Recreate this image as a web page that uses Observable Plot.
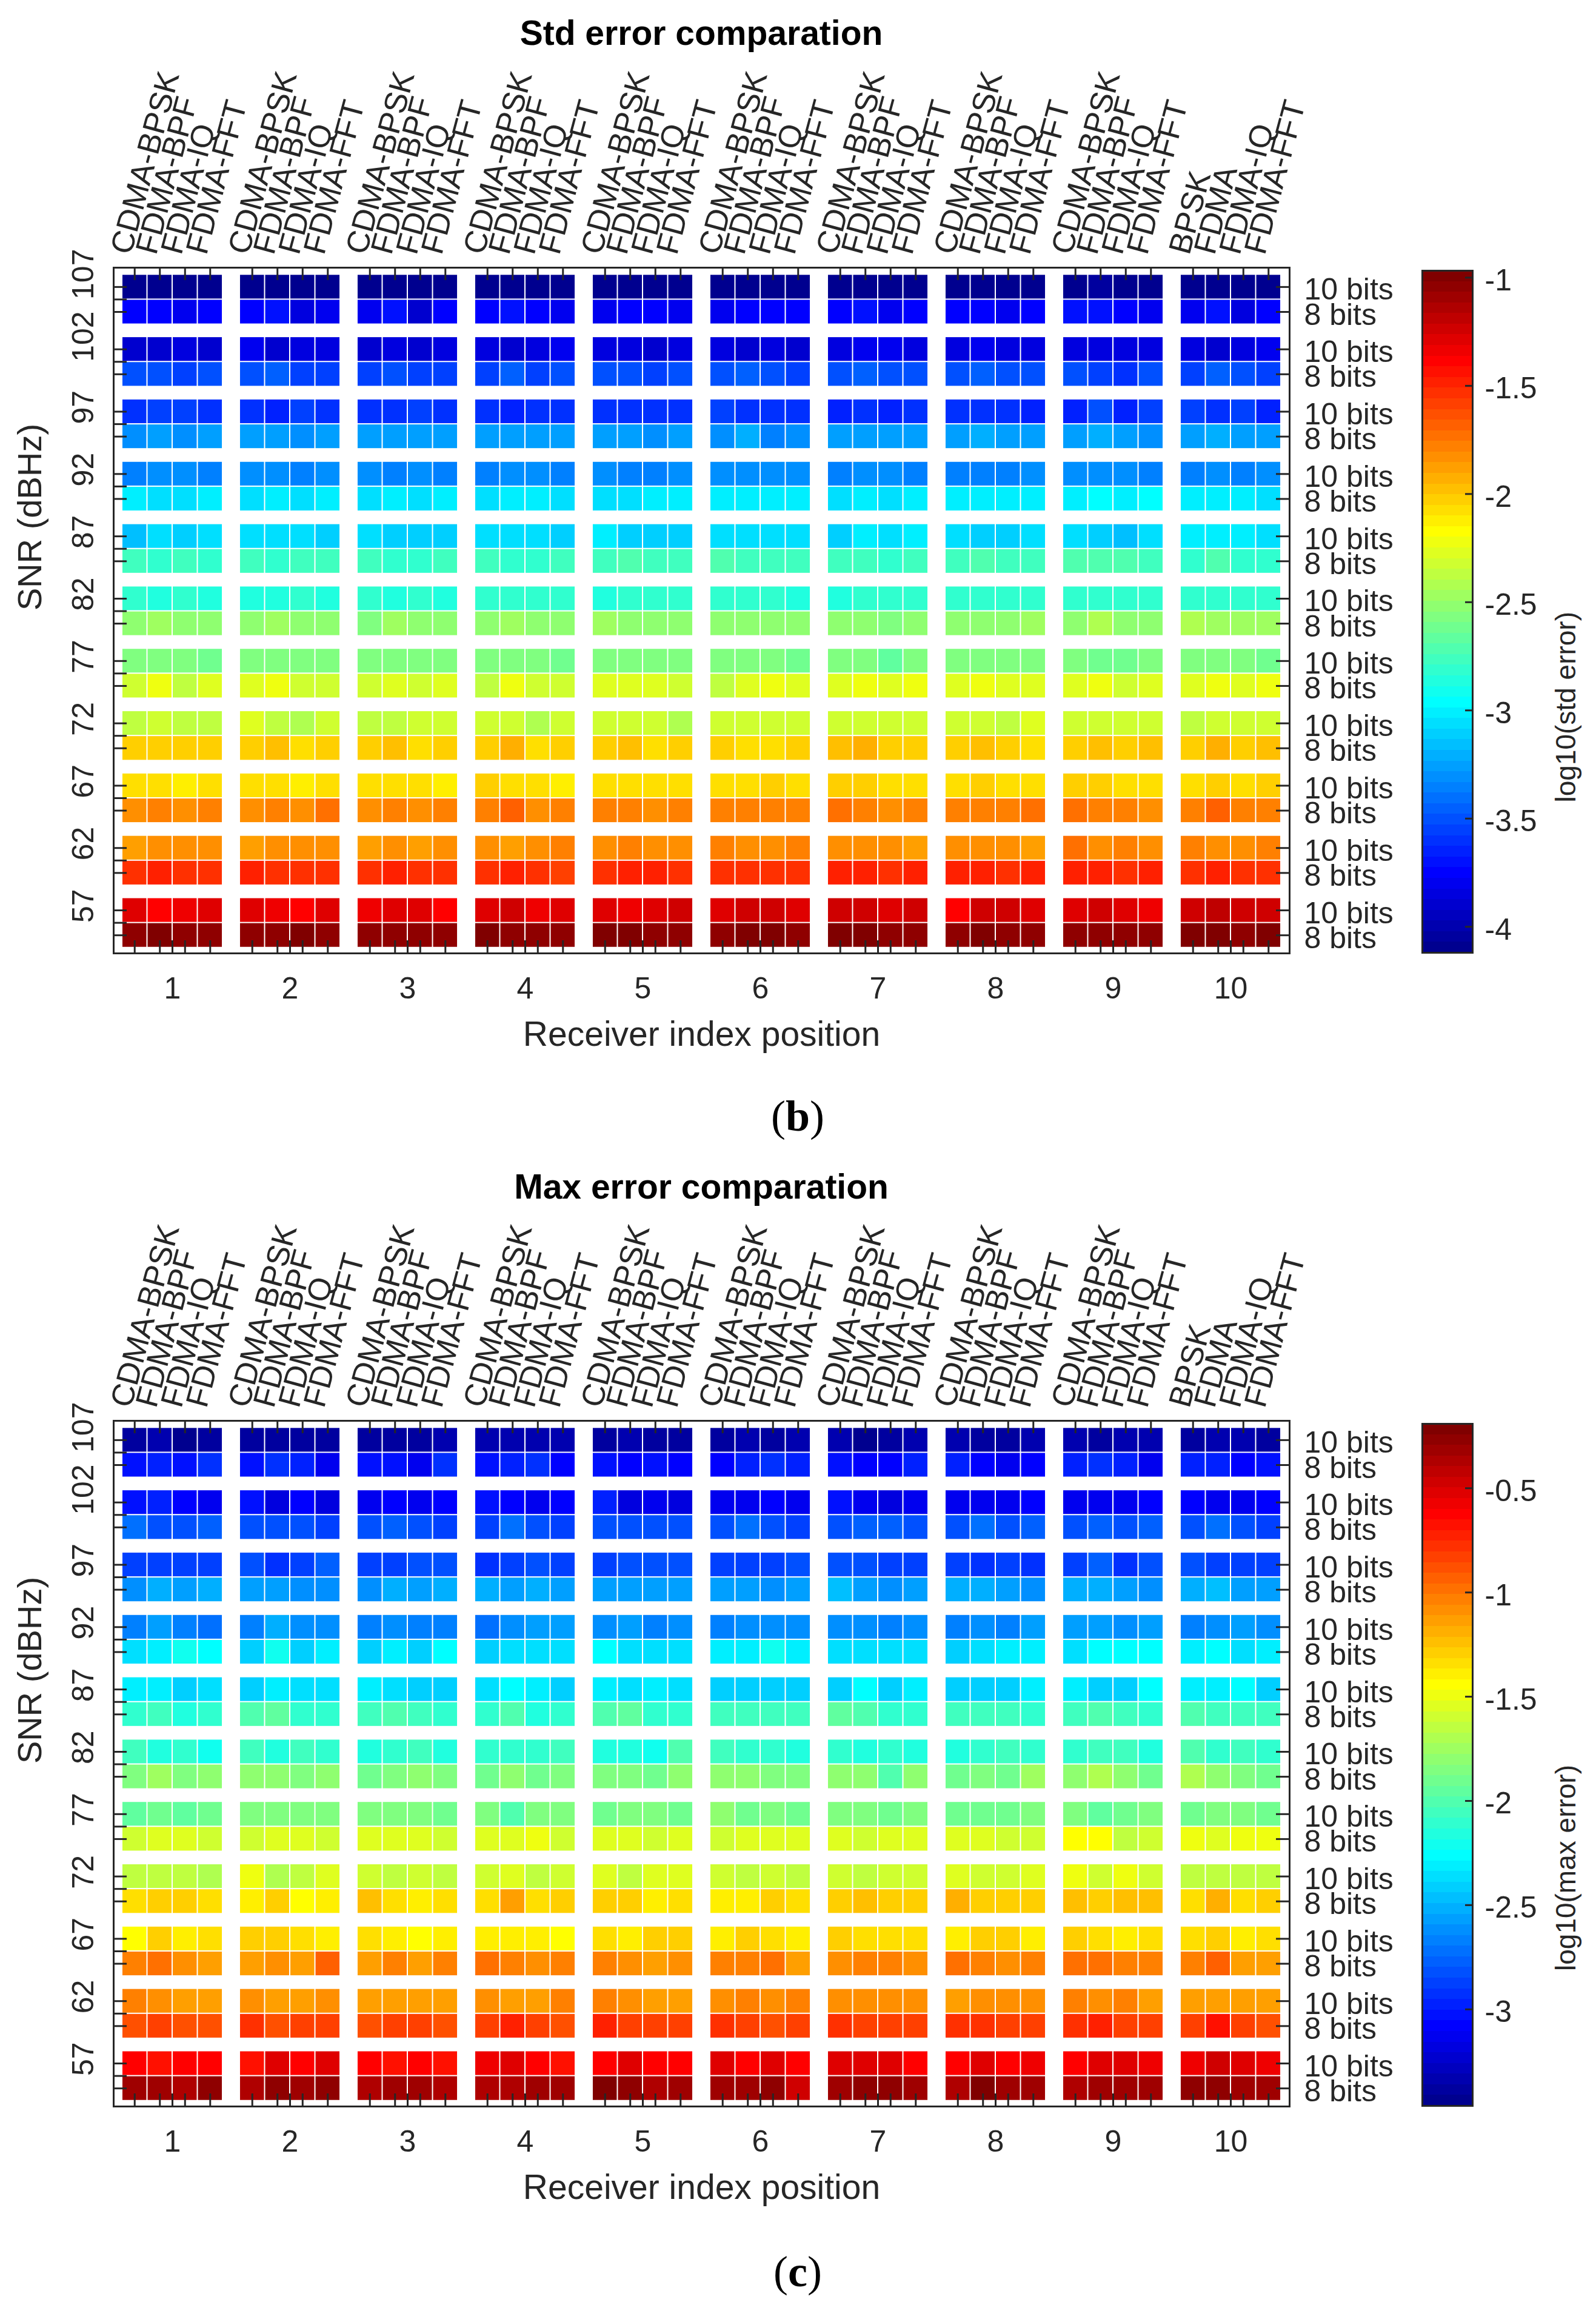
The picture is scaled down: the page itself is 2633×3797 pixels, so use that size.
<!DOCTYPE html>
<html><head><meta charset="utf-8">
<script src="https://cdn.jsdelivr.net/npm/d3@7"></script>
<script src="https://cdn.jsdelivr.net/npm/@observablehq/plot@0.6"></script>
<style>
html,body{margin:0;padding:0;background:#fff;}
#page{position:relative;width:2633px;height:3797px;background:#fff;overflow:hidden;font-family:"Liberation Sans",Arial,Helvetica,sans-serif;color:#262626;}
.title{position:absolute;transform:translate(-50%,-50%);white-space:nowrap;font-weight:bold;font-size:57px;line-height:1;color:#000;}
.sub{position:absolute;transform:translate(-50%,-50%);white-space:nowrap;font-family:"Liberation Serif","Times New Roman",serif;font-size:72px;line-height:1;color:#000;}
</style></head><body><div id="page"></div>
<script>
const receivers = [1,2,3,4,5,6,7,8,9,10];
const snrLevels = [107,102,97,92,87,82,77,72,67,62,57];
const bitLabels = ["10 bits","8 bits"];
const methodLabels = ["CDMA-BPSK","FDMA-BPF","FDMA-IQ","FDMA-FFT"];
const lastMethodLabels = ["BPSK","FDMA","FDMA-IQ","FDMA-FFT"];
const stdTicks = [-1,-1.5,-2,-2.5,-3,-3.5,-4];
const maxTicks = [-0.5,-1,-1.5,-2,-2.5,-3];
const stdDomain = [-4.12,-0.968];
const maxDomain = [-3.463,-0.191];

// log10(std error), 10-bit rows, SNR 107 -> 57, 10 receivers x 4 methods
const std10 = [
[-4.09,-4.10,-4.09,-4.09, -4.10,-4.09,-4.09,-4.09, -4.10,-4.09,-4.10,-4.09, -4.09,-4.10,-4.09,-4.08, -4.09,-4.10,-4.08,-4.09, -4.08,-4.09,-4.10,-4.08, -4.09,-4.10,-4.09,-4.10, -4.08,-4.08,-4.09,-4.08, -4.09,-4.07,-4.09,-4.08, -4.09,-4.08,-4.09,-4.08],
[-3.90,-3.90,-3.87,-3.90, -3.82,-3.90,-3.85,-3.87, -3.90,-3.85,-3.90,-3.85, -3.85,-3.90,-3.87,-3.82, -3.85,-3.87,-3.90,-3.85, -3.85,-3.90,-3.85,-3.90, -3.85,-3.82,-3.82,-3.87, -3.87,-3.82,-3.85,-3.87, -3.85,-3.85,-3.87,-3.87, -3.87,-3.92,-3.85,-3.82],
[-3.60,-3.55,-3.55,-3.60, -3.60,-3.65,-3.55,-3.58, -3.60,-3.60,-3.55,-3.60, -3.58,-3.63,-3.58,-3.60, -3.58,-3.60,-3.60,-3.58, -3.55,-3.60,-3.60,-3.58, -3.65,-3.58,-3.65,-3.60, -3.60,-3.60,-3.60,-3.63, -3.65,-3.50,-3.65,-3.53, -3.55,-3.58,-3.53,-3.65],
[-3.36,-3.33,-3.33,-3.36, -3.33,-3.33,-3.36,-3.33, -3.33,-3.36,-3.33,-3.36, -3.36,-3.33,-3.33,-3.36, -3.33,-3.36,-3.38,-3.33, -3.31,-3.31,-3.31,-3.31, -3.36,-3.31,-3.31,-3.36, -3.36,-3.36,-3.36,-3.33, -3.31,-3.33,-3.31,-3.36, -3.36,-3.33,-3.36,-3.33],
[-3.14,-3.06,-3.09,-3.06, -3.06,-3.06,-3.06,-3.11, -3.06,-3.09,-3.11,-3.11, -3.06,-3.06,-3.06,-3.11, -3.01,-3.09,-3.11,-3.11, -3.06,-3.06,-3.06,-3.06, -3.11,-3.01,-3.06,-3.01, -3.06,-3.11,-3.11,-3.06, -3.06,-3.09,-3.16,-3.06, -3.01,-3.01,-3.01,-3.06],
[-2.82,-2.86,-2.82,-2.86, -2.86,-2.86,-2.82,-2.86, -2.82,-2.86,-2.82,-2.86, -2.82,-2.82,-2.82,-2.82, -2.86,-2.82,-2.82,-2.82, -2.82,-2.82,-2.82,-2.86, -2.86,-2.82,-2.82,-2.82, -2.82,-2.82,-2.82,-2.82, -2.82,-2.82,-2.82,-2.82, -2.82,-2.82,-2.82,-2.82],
[-2.57,-2.57,-2.57,-2.62, -2.57,-2.57,-2.55,-2.57, -2.57,-2.57,-2.57,-2.57, -2.57,-2.57,-2.57,-2.62, -2.57,-2.57,-2.57,-2.57, -2.57,-2.57,-2.57,-2.62, -2.57,-2.57,-2.67,-2.57, -2.57,-2.57,-2.57,-2.57, -2.57,-2.62,-2.62,-2.57, -2.57,-2.57,-2.57,-2.62],
[-2.35,-2.32,-2.37,-2.37, -2.27,-2.37,-2.42,-2.32, -2.37,-2.37,-2.32,-2.32, -2.32,-2.30,-2.40,-2.30, -2.32,-2.32,-2.32,-2.40, -2.32,-2.32,-2.32,-2.32, -2.32,-2.32,-2.32,-2.30, -2.32,-2.32,-2.37,-2.27, -2.32,-2.32,-2.32,-2.32, -2.35,-2.32,-2.32,-2.32],
[-2.08,-2.08,-2.12,-2.08, -2.08,-2.08,-2.12,-2.08, -2.08,-2.08,-2.08,-2.12, -2.03,-2.08,-2.08,-2.12, -2.08,-2.08,-2.08,-2.08, -2.08,-2.08,-2.03,-2.08, -2.03,-2.03,-2.08,-2.08, -2.08,-2.03,-2.08,-2.08, -2.03,-2.03,-2.08,-2.08, -2.08,-2.03,-2.08,-2.03],
[-1.88,-1.81,-1.85,-1.83, -1.88,-1.85,-1.83,-1.83, -1.88,-1.81,-1.88,-1.85, -1.81,-1.88,-1.83,-1.78, -1.83,-1.78,-1.83,-1.81, -1.78,-1.81,-1.81,-1.78, -1.83,-1.83,-1.83,-1.88, -1.83,-1.81,-1.85,-1.88, -1.73,-1.81,-1.78,-1.85, -1.78,-1.81,-1.85,-1.78],
[-1.30,-1.39,-1.33,-1.30, -1.30,-1.33,-1.39,-1.30, -1.33,-1.30,-1.30,-1.39, -1.30,-1.25,-1.33,-1.30, -1.30,-1.33,-1.30,-1.25, -1.30,-1.25,-1.25,-1.30, -1.25,-1.25,-1.30,-1.25, -1.39,-1.25,-1.25,-1.30, -1.30,-1.25,-1.30,-1.33, -1.25,-1.19,-1.25,-1.25]
];
// log10(std error), 8-bit rows
const std8 = [
[-3.75,-3.75,-3.82,-3.75, -3.75,-3.70,-3.85,-3.80, -3.80,-3.70,-3.90,-3.75, -3.75,-3.70,-3.75,-3.80, -3.80,-3.75,-3.75,-3.80, -3.80,-3.75,-3.75,-3.75, -3.75,-3.70,-3.80,-3.75, -3.75,-3.75,-3.80,-3.75, -3.70,-3.70,-3.75,-3.80, -3.80,-3.70,-3.85,-3.75],
[-3.50,-3.50,-3.53,-3.50, -3.50,-3.46,-3.55,-3.53, -3.55,-3.50,-3.55,-3.53, -3.53,-3.46,-3.53,-3.50, -3.50,-3.48,-3.53,-3.48, -3.48,-3.46,-3.48,-3.53, -3.48,-3.46,-3.48,-3.48, -3.48,-3.46,-3.48,-3.48, -3.48,-3.53,-3.58,-3.48, -3.53,-3.46,-3.48,-3.53],
[-3.31,-3.28,-3.31,-3.28, -3.28,-3.26,-3.31,-3.28, -3.28,-3.26,-3.28,-3.26, -3.28,-3.26,-3.28,-3.28, -3.28,-3.26,-3.31,-3.26, -3.31,-3.23,-3.36,-3.31, -3.26,-3.25,-3.26,-3.27, -3.26,-3.23,-3.28,-3.26, -3.26,-3.23,-3.26,-3.31, -3.26,-3.23,-3.26,-3.28],
[-3.01,-3.06,-3.06,-3.01, -3.06,-3.01,-3.06,-3.01, -3.06,-3.01,-3.06,-3.01, -3.06,-3.01,-3.01,-3.06, -3.04,-3.04,-3.01,-3.01, -3.01,-3.01,-3.01,-3.01, -3.06,-3.01,-3.06,-3.01, -3.01,-3.01,-3.01,-3.01, -3.01,-2.96,-3.01,-2.96, -3.01,-3.01,-3.01,-3.04],
[-2.77,-2.82,-2.77,-2.82, -2.77,-2.82,-2.77,-2.77, -2.77,-2.82,-2.82,-2.77, -2.77,-2.82,-2.82,-2.77, -2.77,-2.72,-2.77,-2.77, -2.74,-2.77,-2.77,-2.77, -2.77,-2.77,-2.82,-2.77, -2.77,-2.72,-2.77,-2.77, -2.72,-2.72,-2.74,-2.77, -2.82,-2.72,-2.82,-2.82],
[-2.52,-2.47,-2.52,-2.52, -2.52,-2.47,-2.52,-2.52, -2.57,-2.47,-2.52,-2.52, -2.52,-2.47,-2.52,-2.52, -2.47,-2.52,-2.52,-2.52, -2.52,-2.52,-2.52,-2.52, -2.52,-2.52,-2.57,-2.52, -2.52,-2.52,-2.52,-2.47, -2.52,-2.42,-2.52,-2.52, -2.42,-2.47,-2.47,-2.47],
[-2.30,-2.22,-2.35,-2.27, -2.27,-2.22,-2.32,-2.32, -2.30,-2.27,-2.32,-2.27, -2.37,-2.22,-2.32,-2.32, -2.27,-2.27,-2.27,-2.32, -2.37,-2.27,-2.22,-2.27, -2.27,-2.22,-2.27,-2.22, -2.27,-2.22,-2.27,-2.27, -2.27,-2.22,-2.32,-2.27, -2.25,-2.22,-2.27,-2.22],
[-2.03,-2.03,-2.03,-2.03, -2.03,-1.98,-2.08,-2.03, -2.03,-1.98,-2.08,-2.03, -2.03,-1.93,-2.08,-2.03, -2.03,-1.98,-2.08,-2.03, -2.03,-2.08,-2.08,-2.03, -1.98,-1.93,-2.03,-2.03, -2.03,-1.98,-2.03,-2.08, -2.03,-1.98,-2.03,-1.98, -2.03,-1.93,-2.03,-1.98],
[-1.81,-1.78,-1.81,-1.78, -1.81,-1.78,-1.81,-1.73, -1.81,-1.76,-1.81,-1.76, -1.76,-1.68,-1.81,-1.78, -1.78,-1.76,-1.81,-1.78, -1.78,-1.78,-1.78,-1.78, -1.73,-1.76,-1.81,-1.76, -1.78,-1.78,-1.78,-1.73, -1.73,-1.76,-1.78,-1.81, -1.78,-1.68,-1.78,-1.78],
[-1.52,-1.49,-1.53,-1.53, -1.49,-1.52,-1.52,-1.52, -1.52,-1.49,-1.52,-1.52, -1.52,-1.49,-1.52,-1.56, -1.52,-1.49,-1.49,-1.53, -1.53,-1.52,-1.53,-1.53, -1.49,-1.49,-1.53,-1.49, -1.49,-1.49,-1.53,-1.49, -1.49,-1.49,-1.53,-1.49, -1.52,-1.49,-1.52,-1.53],
[-1.03,-0.99,-1.03,-1.03, -1.04,-1.03,-0.99,-1.03, -1.03,-1.03,-1.03,-1.03, -0.99,-1.03,-1.03,-1.03, -0.99,-0.99,-1.03,-1.03, -1.03,-0.99,-0.99,-1.03, -0.99,-0.99,-1.03,-1.03, -1.03,-0.99,-1.03,-1.03, -1.03,-1.03,-1.03,-1.03, -0.99,-0.99,-1.03,-0.99]
];
// log10(max error), 10-bit rows
const max10 = [
[-3.39,-3.36,-3.45,-3.39, -3.39,-3.38,-3.39,-3.40, -3.39,-3.41,-3.39,-3.36, -3.34,-3.36,-3.36,-3.34, -3.39,-3.36,-3.39,-3.41, -3.39,-3.36,-3.39,-3.36, -3.36,-3.44,-3.39,-3.36, -3.36,-3.39,-3.39,-3.36, -3.34,-3.39,-3.36,-3.34, -3.39,-3.36,-3.36,-3.39],
[-3.03,-3.00,-3.08,-3.15, -3.03,-3.20,-3.08,-3.18, -3.15,-3.08,-3.15,-3.08, -3.03,-3.08,-3.15,-3.08, -2.98,-3.18,-3.15,-3.18, -3.15,-3.15,-3.08,-3.13, -3.03,-3.13,-3.18,-3.13, -3.13,-3.15,-3.15,-3.08, -3.13,-3.15,-3.13,-3.08, -3.08,-3.13,-3.13,-3.08],
[-2.90,-2.85,-2.85,-2.90, -2.80,-2.93,-2.85,-2.77, -2.88,-2.85,-2.82,-2.82, -2.93,-2.85,-2.82,-2.88, -2.85,-2.82,-2.80,-2.80, -2.88,-2.85,-2.88,-2.82, -2.82,-2.80,-2.85,-2.85, -2.85,-2.93,-2.88,-2.93, -2.85,-2.77,-2.93,-2.82, -2.82,-2.85,-2.88,-2.85],
[-2.65,-2.57,-2.67,-2.70, -2.67,-2.52,-2.62,-2.60, -2.65,-2.62,-2.65,-2.67, -2.72,-2.62,-2.57,-2.55, -2.62,-2.57,-2.67,-2.60, -2.67,-2.62,-2.62,-2.62, -2.60,-2.62,-2.67,-2.60, -2.67,-2.62,-2.67,-2.57, -2.57,-2.57,-2.62,-2.57, -2.67,-2.62,-2.57,-2.62],
[-2.31,-2.31,-2.44,-2.36, -2.39,-2.31,-2.36,-2.36, -2.31,-2.36,-2.44,-2.42, -2.36,-2.26,-2.31,-2.42, -2.31,-2.36,-2.31,-2.36, -2.39,-2.39,-2.39,-2.39, -2.39,-2.26,-2.39,-2.31, -2.39,-2.42,-2.39,-2.31, -2.31,-2.44,-2.44,-2.26, -2.31,-2.31,-2.26,-2.42],
[-2.06,-2.16,-2.11,-2.21, -2.06,-2.16,-2.06,-2.11, -2.16,-2.11,-2.06,-2.16, -2.11,-2.11,-2.11,-2.06, -2.16,-2.16,-2.21,-2.01, -2.06,-2.11,-2.11,-2.16, -2.11,-2.16,-2.11,-2.16, -2.16,-2.11,-2.06,-2.11, -2.11,-2.06,-2.06,-2.16, -2.01,-2.11,-2.06,-2.11],
[-1.96,-1.90,-1.96,-1.90, -1.85,-1.85,-1.83,-1.85, -1.83,-1.85,-1.85,-1.90, -1.85,-2.01,-1.85,-1.85, -1.90,-1.85,-1.85,-1.90, -1.80,-1.90,-1.85,-1.90, -1.85,-1.85,-1.90,-1.85, -1.90,-1.90,-1.90,-1.85, -1.85,-1.96,-1.90,-1.85, -1.90,-1.85,-1.85,-1.90],
[-1.63,-1.65,-1.65,-1.68, -1.50,-1.70,-1.65,-1.55, -1.60,-1.63,-1.60,-1.63, -1.60,-1.55,-1.65,-1.60, -1.55,-1.65,-1.55,-1.55, -1.60,-1.65,-1.60,-1.65, -1.60,-1.63,-1.60,-1.60, -1.55,-1.60,-1.60,-1.55, -1.50,-1.60,-1.52,-1.60, -1.65,-1.63,-1.65,-1.65],
[-1.44,-1.29,-1.37,-1.34, -1.29,-1.27,-1.34,-1.39, -1.32,-1.37,-1.44,-1.39, -1.39,-1.39,-1.39,-1.44, -1.34,-1.39,-1.29,-1.29, -1.39,-1.29,-1.32,-1.39, -1.29,-1.32,-1.34,-1.34, -1.39,-1.27,-1.27,-1.39, -1.29,-1.34,-1.39,-1.34, -1.34,-1.27,-1.39,-1.34],
[-1.06,-1.09,-1.14,-1.14, -1.09,-1.14,-1.14,-1.09, -1.14,-1.14,-1.16,-1.14, -1.09,-1.14,-1.14,-1.04, -1.06,-1.09,-1.14,-1.14, -1.09,-1.04,-1.09,-1.06, -1.09,-1.09,-1.09,-1.09, -1.16,-1.09,-1.09,-1.11, -1.04,-1.09,-1.04,-1.14, -1.14,-1.16,-1.14,-1.14],
[-0.63,-0.68,-0.63,-0.63, -0.68,-0.52,-0.63,-0.52, -0.63,-0.68,-0.63,-0.68, -0.58,-0.50,-0.63,-0.68, -0.63,-0.52,-0.63,-0.63, -0.52,-0.63,-0.52,-0.63, -0.52,-0.52,-0.52,-0.63, -0.63,-0.52,-0.63,-0.58, -0.63,-0.52,-0.52,-0.55, -0.58,-0.47,-0.52,-0.55]
];
// log10(max error), 8-bit rows
const max8 = [
[-3.03,-3.00,-3.03,-2.93, -3.03,-2.95,-3.00,-3.15, -3.03,-3.03,-3.15,-2.93, -3.03,-3.00,-2.93,-3.08, -3.03,-3.08,-3.03,-3.08, -3.08,-3.00,-2.93,-3.00, -3.03,-3.08,-3.08,-3.00, -3.00,-3.08,-3.13,-3.08, -3.00,-2.93,-3.00,-3.13, -3.00,-3.00,-3.08,-3.03],
[-2.72,-2.80,-2.82,-2.77, -2.80,-2.80,-2.82,-2.90, -2.80,-2.75,-2.82,-2.85, -2.85,-2.72,-2.82,-2.85, -2.80,-2.82,-2.80,-2.80, -2.80,-2.72,-2.80,-2.85, -2.82,-2.75,-2.77,-2.80, -2.80,-2.72,-2.80,-2.77, -2.80,-2.77,-2.80,-2.77, -2.80,-2.72,-2.80,-2.85],
[-2.62,-2.52,-2.57,-2.52, -2.57,-2.57,-2.62,-2.62, -2.62,-2.52,-2.57,-2.52, -2.52,-2.57,-2.50,-2.57, -2.57,-2.55,-2.57,-2.57, -2.55,-2.57,-2.62,-2.57, -2.47,-2.57,-2.62,-2.55, -2.52,-2.52,-2.57,-2.62, -2.52,-2.52,-2.57,-2.62, -2.52,-2.47,-2.57,-2.55],
[-2.36,-2.31,-2.21,-2.26, -2.39,-2.21,-2.42,-2.31, -2.39,-2.31,-2.39,-2.26, -2.42,-2.36,-2.34,-2.36, -2.26,-2.34,-2.34,-2.36, -2.31,-2.31,-2.21,-2.31, -2.36,-2.34,-2.36,-2.34, -2.39,-2.34,-2.31,-2.31, -2.36,-2.26,-2.26,-2.26, -2.31,-2.26,-2.34,-2.31],
[-2.11,-2.06,-2.16,-2.11, -2.01,-1.96,-2.11,-2.11, -2.06,-2.01,-2.06,-2.11, -2.11,-2.01,-2.16,-2.11, -2.01,-1.96,-2.11,-2.11, -2.06,-2.06,-2.06,-2.06, -1.96,-2.01,-2.11,-2.11, -2.06,-2.06,-2.06,-2.11, -2.06,-2.01,-2.06,-2.11, -2.01,-2.06,-2.06,-2.06],
[-1.85,-1.75,-1.85,-1.80, -1.80,-1.80,-1.85,-1.80, -1.90,-1.85,-1.80,-1.85, -1.90,-1.80,-1.90,-1.85, -1.85,-1.85,-1.90,-1.80, -1.80,-1.80,-1.85,-1.85, -1.80,-1.80,-2.01,-1.80, -1.90,-1.85,-1.90,-1.75, -1.80,-1.70,-1.80,-1.90, -1.70,-1.80,-1.85,-1.90],
[-1.60,-1.55,-1.55,-1.58, -1.60,-1.55,-1.55,-1.60, -1.55,-1.55,-1.55,-1.60, -1.55,-1.55,-1.50,-1.60, -1.55,-1.55,-1.60,-1.55, -1.60,-1.55,-1.55,-1.55, -1.55,-1.60,-1.55,-1.55, -1.55,-1.55,-1.60,-1.60, -1.44,-1.44,-1.65,-1.60, -1.50,-1.55,-1.52,-1.50],
[-1.34,-1.29,-1.29,-1.34, -1.39,-1.29,-1.44,-1.39, -1.24,-1.32,-1.37,-1.34, -1.34,-1.14,-1.32,-1.29, -1.29,-1.27,-1.39,-1.34, -1.39,-1.39,-1.27,-1.34, -1.29,-1.24,-1.29,-1.29, -1.19,-1.29,-1.29,-1.29, -1.24,-1.29,-1.24,-1.24, -1.34,-1.19,-1.34,-1.29],
[-1.04,-0.98,-1.09,-1.14, -1.14,-1.09,-1.14,-0.93, -1.14,-1.04,-1.14,-1.06, -0.98,-1.01,-1.09,-1.04, -1.04,-1.09,-1.14,-1.11, -1.01,-1.04,-0.98,-1.14, -1.09,-1.04,-1.04,-1.09, -0.98,-1.04,-1.09,-1.04, -0.98,-0.98,-1.06,-1.04, -1.06,-0.93,-1.14,-1.14],
[-0.88,-0.83,-0.90,-0.86, -0.78,-0.86,-0.83,-0.81, -0.86,-0.81,-0.83,-0.88, -0.83,-0.73,-0.83,-0.86, -0.73,-0.83,-0.81,-0.83, -0.78,-0.81,-0.86,-0.81, -0.76,-0.81,-0.83,-0.83, -0.78,-0.76,-0.81,-0.83, -0.78,-0.73,-0.83,-0.81, -0.83,-0.68,-0.83,-0.86],
[-0.32,-0.32,-0.35,-0.27, -0.35,-0.27,-0.32,-0.27, -0.35,-0.32,-0.32,-0.35, -0.37,-0.35,-0.32,-0.32, -0.22,-0.27,-0.35,-0.32, -0.32,-0.32,-0.27,-0.45, -0.32,-0.27,-0.27,-0.32, -0.35,-0.22,-0.32,-0.32, -0.37,-0.32,-0.32,-0.32, -0.27,-0.27,-0.32,-0.30]
];

// MATLAB-style jet colormap with 64 discrete levels
function jet(t) {
  const k = Math.max(1, Math.min(64, Math.floor(t * 64) + 1));
  const c = v => Math.round(255 * Math.max(0, Math.min(1, v)));
  const r = c(Math.min((k - 24) / 16, (72 - k) / 16));
  const g = c(Math.min((k - 8) / 16, (56 - k) / 16));
  const b = c(Math.min((k + 8) / 16, (40 - k) / 16));
  return `rgb(${r},${g},${b})`;
}

const INK = "#262626";
const FONT = "Liberation Sans, Arial, Helvetica, sans-serif";
const CW = 0.214, GH = 0.428;
const W = 2340, H = 1670, ML = 187, MR = 213, MT = 351, MB = 188;
const IW = W - ML - MR, IH = H - MT - MB;

const columns = receivers.flatMap(r => [0,1,2,3].map(m => ({
  x: r - GH + (m + 0.5) * CW,
  label: (r === 10 ? lastMethodLabels : methodLabels)[m]
})));

function buildCells(a10, a8) {
  const cells = [];
  snrLevels.forEach((s, si) => {
    [[a10, s, s + 2], [a8, s - 2, s]].forEach(([arr, y1, y2]) => {
      receivers.forEach((r, gi) => {
        for (let m = 0; m < 4; m++) {
          const x1 = r - GH + m * CW;
          cells.push({x1, x2: x1 + CW, y1, y2, v: arr[si][gi * 4 + m]});
        }
      });
    });
  });
  return cells;
}

function heatmap(cells, domain) {
  const rowCenters = snrLevels.flatMap(s => [s + 1, s - 1]);
  const leftTicks = snrLevels.flatMap(s => [s + 1, s, s - 1]);
  const bottomTicks = [...columns.map(c => c.x), ...receivers];
  const rightLabels = snrLevels.flatMap(s => [{y: s + 1, t: bitLabels[0]}, {y: s - 1, t: bitLabels[1]}]);
  return Plot.plot({
    width: W, height: H, marginLeft: ML, marginRight: MR, marginTop: MT, marginBottom: MB,
    style: {fontFamily: FONT, color: INK, background: "transparent", overflow: "visible"},
    x: {domain: [0.5, 10.5], axis: null},
    y: {domain: [54.55, 109.55], axis: null},
    color: {type: "linear", domain, interpolate: jet, clamp: true},
    marks: [
      Plot.rect(cells, {x1: "x1", x2: "x2", y1: "y1", y2: "y2", fill: "v", inset: 1}),
      Plot.tickX(columns, {x: "x", insetBottom: IH - 21, stroke: INK, strokeWidth: 3}),
      Plot.tickX(bottomTicks, {x: d => d, insetTop: IH - 21, stroke: INK, strokeWidth: 3}),
      Plot.tickY(leftTicks, {y: d => d, insetRight: IW - 22, stroke: INK, strokeWidth: 3}),
      Plot.tickY(rowCenters, {y: d => d, insetLeft: IW - 22, stroke: INK, strokeWidth: 3}),
      Plot.frame({stroke: INK, strokeWidth: 3}),
      Plot.text(columns, {x: "x", text: "label", frameAnchor: "top", dx: -42, dy: -29, rotate: -75, textAnchor: "start", fontSize: 52}),
      Plot.text(receivers, {x: d => d, text: d => String(d), frameAnchor: "bottom", dy: 74, fontSize: 50}),
      Plot.text(["Receiver index position"], {frameAnchor: "bottom", dy: 152, fontSize: 57}),
      Plot.text(snrLevels, {y: d => d, text: d => String(d), frameAnchor: "left", dx: -50, rotate: -90, fontSize: 50}),
      Plot.text(["SNR (dBHz)"], {frameAnchor: "left", dx: -137, rotate: -90, fontSize: 56}),
      Plot.text(rightLabels, {y: "y", text: "t", frameAnchor: "right", dx: 24, dy: 5, textAnchor: "start", fontSize: 50})
    ]
  });
}

function colorbar(domain, ticks, label) {
  const [lo, hi] = domain, n = 64, step = (hi - lo) / n;
  const bands = d3.range(n).map(i => ({y1: lo + i * step, y2: lo + (i + 1) * step, v: lo + (i + 0.5) * step}));
  return Plot.plot({
    width: 300, height: H, marginLeft: 13, marginRight: 204, marginTop: 356, marginBottom: 189,
    style: {fontFamily: FONT, color: INK, background: "transparent", overflow: "visible"},
    x: {domain: [0, 1], axis: null},
    y: {domain, axis: null},
    color: {type: "linear", domain, interpolate: jet, clamp: true},
    marks: [
      Plot.rect(bands, {x1: 0, x2: 1, y1: "y1", y2: "y2", fill: "v", shapeRendering: "crispEdges"}),
      Plot.tickY(ticks, {y: d => d, insetLeft: 83 - 12, stroke: INK, strokeWidth: 3}),
      Plot.frame({stroke: INK, strokeWidth: 3}),
      Plot.text(ticks, {y: d => d, text: d => String(d), frameAnchor: "right", dx: 20, dy: 5, textAnchor: "start", fontSize: 50}),
      Plot.text([label], {frameAnchor: "right", dx: 155, rotate: -90, fontSize: 46})
    ]
  });
}

const page = document.getElementById("page");
function place(el, left, top) {
  el.style.position = "absolute";
  el.style.left = left + "px";
  el.style.top = top + "px";
  page.appendChild(el);
}
function label(cls, html, x, y) {
  const d = document.createElement("div");
  d.className = cls;
  d.innerHTML = html;
  d.style.left = x + "px";
  d.style.top = y + "px";
  page.appendChild(d);
}

const top1 = 90, top2 = 1992;
place(heatmap(buildCells(std10, std8), stdDomain), 0, top1);
place(colorbar(stdDomain, stdTicks, "log10(std error)"), 2333, top1);
place(heatmap(buildCells(max10, max8), maxDomain), 0, top2);
place(colorbar(maxDomain, maxTicks, "log10(max error)"), 2333, top2);
label("title", "Std error comparation", 1157, 54);
label("title", "Max error comparation", 1157, 1957);
label("sub", "(<b>b</b>)", 1316, 1841);
label("sub", "(<b>c</b>)", 1316, 3747);
</script></body></html>
